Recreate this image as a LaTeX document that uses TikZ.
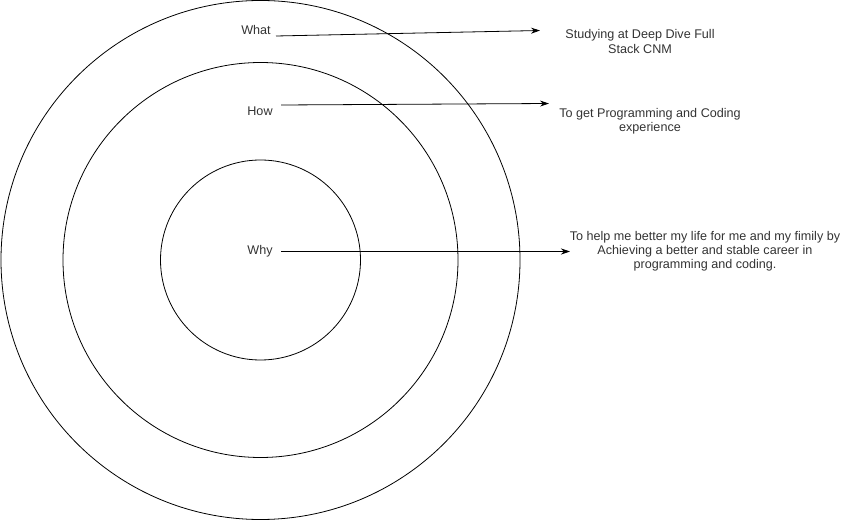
\documentclass[tikz,border=0pt]{standalone}
\usepackage{fontspec}
\setmainfont{Liberation Sans}
\usetikzlibrary{arrows.meta}
\definecolor{txt}{HTML}{333333}
\begin{document}
\begin{tikzpicture}[x=1pt,y=-1pt,
  ring/.style={draw=black,line width=0.8pt},
  lbl/.style={text=txt,font=\fontsize{12.6}{14.2}\selectfont,inner sep=0pt,align=center},
  conn/.style={draw=black,line width=0.8pt,-{Stealth[length=9pt,width=6pt]}}]
\useasboundingbox (0,0) rectangle (841,521);
\draw[ring] (260.5,260) circle (259.5);
\draw[ring] (260.5,260) circle (197.5);
\draw[ring] (260.5,260) circle (100);
\node[lbl] (what) at (256,30) {What};
\node[lbl] (how) at (260,111) {How};
\node[lbl] (why) at (260,251) {Why};
\coordinate (w1) at (276,36);
\coordinate (w2) at (540,30.5);
\coordinate (h1) at (281,105);
\coordinate (h2) at (549,103.5);
\coordinate (y1) at (281,251.5);
\coordinate (y2) at (570,251.5);
\node[lbl] (t1) at (640,41.5) {Studying at Deep Dive Full\\Stack CNM};
\node[lbl] (t2) at (650,121) {To get Programming and Coding\\experience};
\node[lbl] (t3) at (705,251) {To help me better my life for me and my fimily by\\Achieving a better and stable career in\\programming and coding.};
\draw[conn] (w1) -- (w2);
\draw[conn] (h1) -- (h2);
\draw[conn] (y1) -- (y2);
\end{tikzpicture}
\end{document}
